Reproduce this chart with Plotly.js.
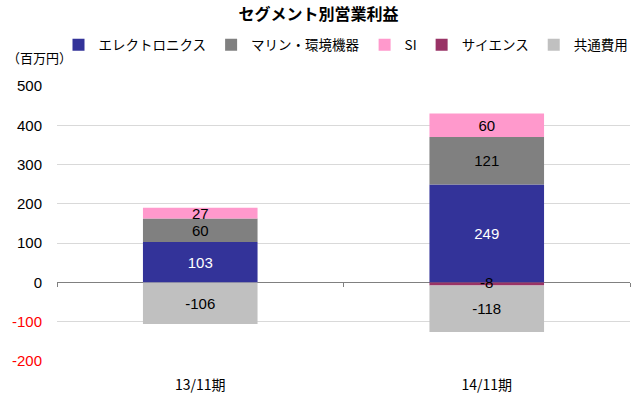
<!DOCTYPE html>
<html><head><meta charset="utf-8">
<script src="https://cdn.plot.ly/plotly-3.0.1.min.js"></script>
<style>html,body{margin:0;padding:0;background:#fff}</style>
</head><body><div id="chart" style="width:637px;height:396px"></div>
<script>
// ---- data ----
const categories = ['13/11期', '14/11期'];
const electronics = [103, 249];
const marine = [60, 121];
const si = [27, 60];
const science = [null, -8];
const common = [-106, -118];
const seriesNames = ['エレクトロニクス', 'マリン・環境機器', 'SI', 'サイエンス', '共通費用'];
const seriesColors = ['#333399', '#808080', '#FF99CC', '#993366', '#C0C0C0'];
const labelColors = ['#FFFFFF', '#000000', '#000000', '#000000', '#000000'];
const yRange = [-200, 500];
const yTickVals = [-200, -100, 0, 100, 200, 300, 400, 500];
const yTickText = yTickVals.map(v => v < 0 ? '<span style="color:#FF0000">' + v + '</span>' : String(v));
const chartTitle = 'セグメント別営業利益';
const unitLabel = '（百万円）';

const numFont = 'Liberation Sans, Arial, sans-serif';
const cjkFont = 'Noto Sans CJK JP, sans-serif';

const seriesValues = [electronics, marine, si, science, common];
const SCIENCE = 3;
const traces = seriesValues.map((vals, i) => ({
  type: 'bar',
  name: seriesNames[i],
  x: categories,
  y: vals,
  text: i === SCIENCE ? vals.map(() => '') : vals.map(v => v === null ? '' : String(v)),
  textposition: 'inside',
  insidetextanchor: 'middle',
  constraintext: 'none',
  textangle: 0,
  textfont: {family: numFont, size: 15, color: labelColors[i]},
  marker: {color: seriesColors[i], line: {width: 0}},
  hoverinfo: 'skip'
}));

// science label drawn on top (its bar is thinner than its text)
traces.push({
  type: 'scatter', mode: 'text', x: categories,
  y: science.map(v => v === null ? null : v / 2),
  text: science.map(v => v === null ? '' : String(v)),
  textposition: 'middle center',
  textfont: {family: numFont, size: 15, color: labelColors[SCIENCE]},
  showlegend: false, hoverinfo: 'skip', cliponaxis: false
});

// invisible helper so the zero-line axis gets category boundary ticks
traces.push({
  type: 'scatter', x: categories, y: categories.map(() => 0), xaxis: 'x2',
  mode: 'markers', marker: {opacity: 0}, showlegend: false, hoverinfo: 'skip'
});

const layout = {
  width: 637, height: 396,
  margin: {l: 57, r: 7, t: 86, b: 35},
  paper_bgcolor: '#fff', plot_bgcolor: '#fff',
  barmode: 'relative',
  bargap: 0.6,
  showlegend: true,
  title: {
    text: '<b>' + chartTitle + '</b>',
    font: {family: cjkFont, size: 16, color: '#000'},
    x: 0.5, xref: 'container', xanchor: 'center',
    y: 1 - 14 / 396, yref: 'container', yanchor: 'middle'
  },
  legend: {
    orientation: 'h',
    x: 346 / 637, xref: 'container', xanchor: 'center',
    y: 1 - 45 / 396, yref: 'container', yanchor: 'middle',
    font: {family: cjkFont, size: 13.5, color: '#000'},
    itemwidth: 30,
    traceorder: 'normal',
    bgcolor: 'rgba(0,0,0,0)'
  },
  xaxis: {
    type: 'category', range: [-0.5, 1.5],
    showgrid: false, showline: false, zeroline: false,
    ticks: '', ticklabelstandoff: 14,
    tickfont: {family: cjkFont, size: 14, color: '#000'}
  },
  xaxis2: {
    type: 'category', overlaying: 'x', anchor: 'free', side: 'bottom',
    position: (0 - yRange[0]) / (yRange[1] - yRange[0]),
    range: [-0.5, 1.5], showgrid: false, zeroline: false,
    showline: true, linecolor: '#808080', linewidth: 1,
    ticks: 'outside', tickson: 'boundaries', ticklen: 4, tickcolor: '#808080', tickwidth: 1,
    showticklabels: false, layer: 'below traces'
  },
  yaxis: {
    range: yRange, tickvals: yTickVals, ticktext: yTickText,
    showgrid: true, gridcolor: '#D9D9D9', gridwidth: 1,
    zeroline: false, showline: false, ticks: '',
    ticklabelstandoff: 14,
    tickfont: {family: numFont, size: 15, color: '#000'}
  },
  annotations: [{
    text: unitLabel, xref: 'paper', yref: 'paper',
    x: (5 - 57) / 573, xanchor: 'left',
    y: (361 - 57) / 275, yanchor: 'middle',
    showarrow: false,
    font: {family: cjkFont, size: 13, color: '#000'}
  }]
};

Plotly.newPlot('chart', traces, layout, {displayModeBar: false, staticPlot: true});
</script>
</body></html>
